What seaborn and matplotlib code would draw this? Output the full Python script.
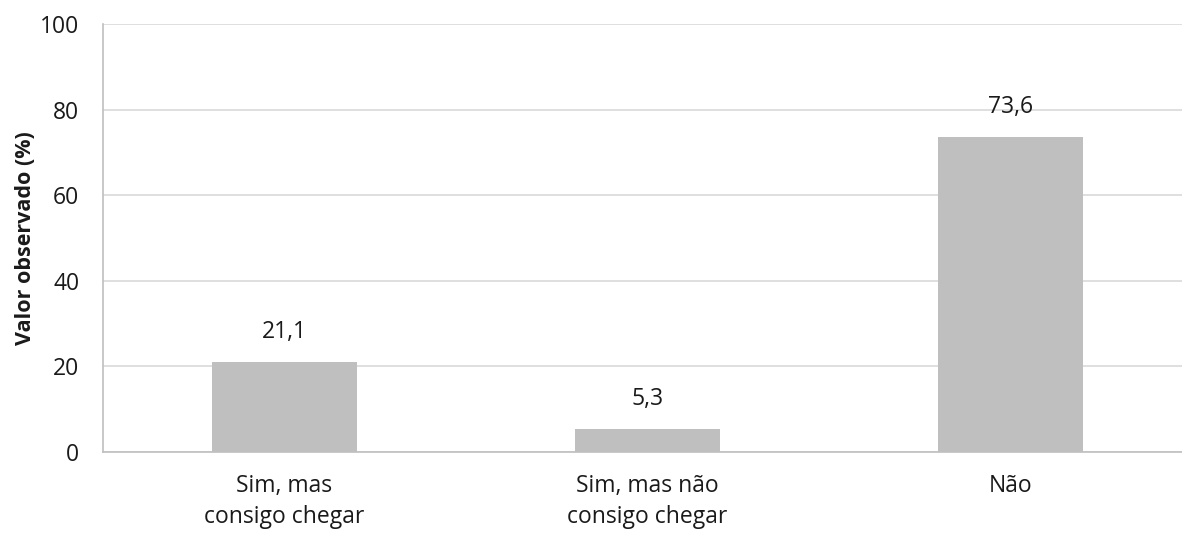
import matplotlib
matplotlib.use("Agg")
import matplotlib.pyplot as plt
import seaborn as sns
import pandas as pd

categories = ["Sim, mas\nconsigo chegar", "Sim, mas não\nconsigo chegar", "Não"]
values = [21.1, 5.3, 73.6]
labels = ["21,1", "5,3", "73,6"]
y_ticks = [0, 20, 40, 60, 80, 100]

sns.set_style("white")
plt.rcParams["font.family"] = ["Open Sans", "DejaVu Sans"]

df = pd.DataFrame({"cat": categories, "val": values})

fig = plt.figure(figsize=(11.82, 5.34), dpi=100)
ax = fig.add_axes([103 / 1182, 82 / 534, 1089 / 1182, 428 / 534])

sns.barplot(data=df, x="cat", y="val", color="#bfbfbf", width=0.4,
            saturation=1, linewidth=0, ax=ax, zorder=3)

ax.set_ylim(0, 100)
ax.set_xlim(-0.5, 2.5)
ax.set_yticks(y_ticks)
ax.set_yticklabels([str(t) for t in y_ticks], fontsize=16.5, color="#1a1a1a")
ax.yaxis.grid(True, color="#d9d9d9", linewidth=1.2, zorder=0)
ax.set_axisbelow(True)

# category separators on the x axis
ax.set_xticks([-0.5, 0.5, 1.5, 2.5], minor=True)
ax.tick_params(axis="x", which="minor", length=7, width=1.2, color="#bfbfbf")
ax.tick_params(axis="x", which="major", length=0, pad=16)
ax.tick_params(axis="y", length=0, pad=17)
for t in ax.get_xticklabels():
    t.set_fontsize(16.5)
    t.set_color("#1a1a1a")
    t.set_linespacing(1.35)

for side in ["top", "right"]:
    ax.spines[side].set_visible(False)
for side in ["left", "bottom"]:
    ax.spines[side].set_color("#bfbfbf")
    ax.spines[side].set_linewidth(1.2)

for i, (v, lab) in enumerate(zip(values, labels)):
    ax.annotate(lab, (i, v), xytext=(0, 13), textcoords="offset points",
                ha="center", va="bottom", fontsize=16.5, color="#1a1a1a")

ax.set_xlabel("")
ax.set_ylabel("Valor observado (%)", fontsize=15.5, fontweight="bold",
              color="#1a1a1a", labelpad=3)

fig.savefig("out.png", dpi=100)
